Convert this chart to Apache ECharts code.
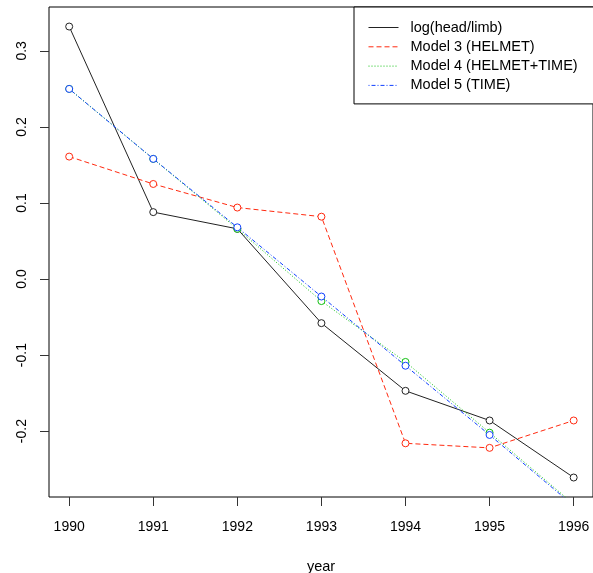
<!DOCTYPE html>
<html>
<head>
<meta charset="utf-8">
<script src="https://cdn.jsdelivr.net/npm/echarts@6/dist/echarts.min.js"></script>
<style>
  html, body { margin: 0; padding: 0; background: #fff; }
  #chart { width: 593px; height: 573px; }
</style>
</head>
<body>
<div id="chart"></div>
<script>
// data
const years = [1990, 1991, 1992, 1993, 1994, 1995, 1996];
const logHeadLimb = [0.332, 0.088, 0.066, -0.058, -0.147, -0.186, -0.261];
const model3 = [0.161, 0.125, 0.094, 0.082, -0.216, -0.222, -0.186];
const model4 = [0.250, 0.158, 0.066, -0.029, -0.109, -0.202, -0.296];
const model5 = [0.250, 0.158, 0.068, -0.023, -0.114, -0.205, -0.298];
const yTicks = [-0.2, -0.1, 0.0, 0.1, 0.2, 0.3];
const seriesNames = ['log(head/limb)', 'Model 3 (HELMET)', 'Model 4 (HELMET+TIME)', 'Model 5 (TIME)'];

const font = 'Liberation Sans, Arial, sans-serif';

function pairs(vals) {
  return years.map((y, i) => [y, vals[i]]);
}

function mkSeries(name, vals, color, dash) {
  return {
    name: name,
    type: 'line',
    data: pairs(vals),
    // hollow circle: white fill, thin coloured ring
    symbol: 'circle',
    symbolSize: 7,
    showAllSymbol: true,
    clip: true,
    silent: true,
    animation: false,
    color: color,
    lineStyle: { color: color, width: 1, type: dash },
    itemStyle: { color: '#fff', borderColor: color, borderWidth: 1 }
  };
}

const chart = echarts.init(document.getElementById('chart'));
const option = {
  backgroundColor: '#fff',
  animation: false,
  grid: {
    left: 49, right: 0, top: 7, bottom: 76,
    outerBoundsMode: 'none', containLabel: false,
    show: true, borderColor: '#000', borderWidth: 1, backgroundColor: 'transparent'
  },
  legend: {
    data: seriesNames,
    orient: 'vertical',
    left: 354, top: 7,
    padding: [13, 20, 11, 14],
    itemWidth: 30, itemHeight: 10, itemGap: 4.3,
    backgroundColor: '#fff',
    borderColor: '#000', borderWidth: 1, borderRadius: 0,
    itemStyle: { opacity: 0 },
    lineStyle: { width: 1 },
    textStyle: { fontFamily: font, fontSize: 14.5, color: '#000', lineHeight: 14, padding: [0, 0, 0, 7] }
  },
  xAxis: {
    type: 'value',
    min: 1989.76, max: 1996.23,
    name: 'year', nameLocation: 'middle', nameGap: 62,
    nameTextStyle: { fontFamily: font, fontSize: 14.5, color: '#000' },
    axisLine: { show: false, onZero: false },
    axisTick: { show: true, length: 9, lineStyle: { color: '#333' }, customValues: years },
    axisLabel: { fontFamily: font, fontSize: 14, color: '#000', margin: 23, customValues: years, formatter: v => String(v) },
    splitLine: { show: false }
  },
  yAxis: {
    type: 'value',
    min: -0.2866, max: 0.3577,
    axisLine: { show: false, onZero: false },
    axisTick: { show: true, length: 9, lineStyle: { color: '#333' }, customValues: yTicks },
    axisLabel: { fontFamily: font, fontSize: 14, color: '#000', margin: 20, rotate: 90, customValues: yTicks, formatter: v => v.toFixed(1) },
    splitLine: { show: false }
  },
  series: [
    mkSeries(seriesNames[0], logHeadLimb, '#222', 'solid'),
    mkSeries(seriesNames[1], model3, '#ff2a10', [5, 3]),
    mkSeries(seriesNames[2], model4, '#10c010', [1, 2]),
    mkSeries(seriesNames[3], model5, '#1040ff', [1, 2, 4, 2])
  ]
};
chart.setOption(option);
</script>
</body>
</html>
